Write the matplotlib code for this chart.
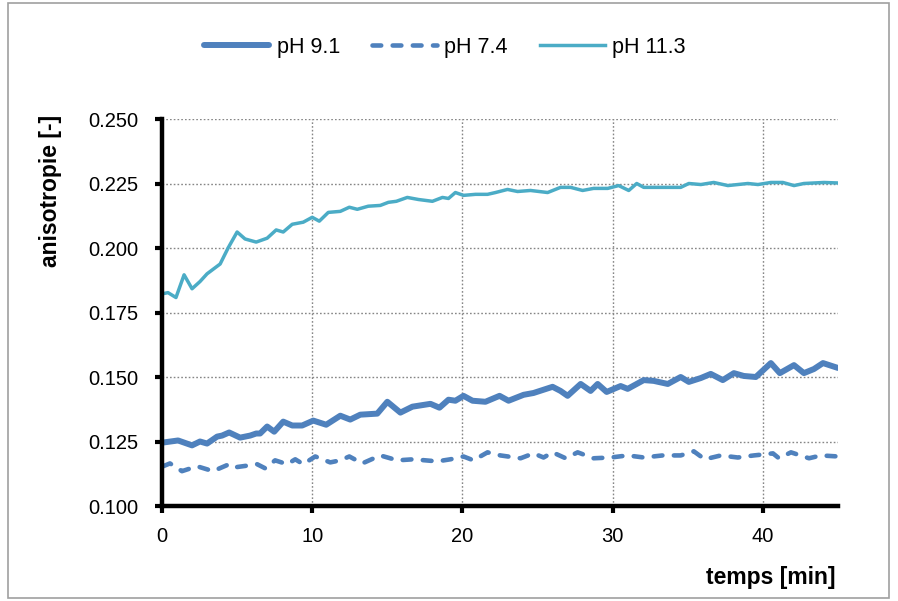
import matplotlib
matplotlib.use("Agg")
import matplotlib.pyplot as plt
from matplotlib.patches import Rectangle

plt.rcParams['font.family'] = ['Liberation Sans', 'DejaVu Sans']

# pH 9.1
t91 = [0.07, 1.07, 2.0, 2.53, 3.0, 3.67, 4.0, 4.47, 5.2, 5.87, 6.27, 6.53, 7.0, 7.47, 8.07, 8.67,
       9.33, 10.07, 10.93, 11.87, 12.53, 13.2, 14.33, 15.0, 15.87, 16.67, 17.87, 18.47, 19.07,
       19.53, 20.07, 20.67, 21.53, 22.47, 23.07, 24.07, 24.73, 26.0, 26.53, 27.0, 27.87, 28.53,
       29.0, 29.6, 30.53, 31.0, 32.07, 32.73, 33.67, 34.53, 35.07, 35.87, 36.53, 37.33, 38.07,
       38.73, 39.53, 40.53, 41.13, 42.07, 42.73, 43.4, 44.0, 45.0]
v91 = [0.1246, 0.1254, 0.1235, 0.125, 0.1242, 0.1269, 0.1273, 0.1285, 0.1265, 0.1273, 0.1281,
       0.1281, 0.1308, 0.1288, 0.1327, 0.1312, 0.1312, 0.1331, 0.1315, 0.135, 0.1335, 0.1354,
       0.1358, 0.1404, 0.1362, 0.1385, 0.1396, 0.1381, 0.1412, 0.1408, 0.1427, 0.1408, 0.1404,
       0.1427, 0.1408, 0.1431, 0.1438, 0.1462, 0.1446, 0.1427, 0.1473, 0.1446, 0.1473, 0.1442,
       0.1465, 0.1454, 0.1488, 0.1485, 0.1473, 0.15, 0.1481, 0.1496, 0.1512, 0.1488, 0.1515,
       0.1504, 0.15, 0.1554, 0.1515, 0.1546, 0.1515, 0.1531, 0.1554, 0.1535]

# pH 7.4
t74 = [0.07, 0.53, 1.33, 2.33, 3.4, 4.47, 4.87, 5.87, 6.33, 6.87, 7.53, 8.33, 8.87, 9.4, 10.2,
       11.2, 11.87, 12.47, 13.33, 14.53, 15.67, 16.73, 18.33, 19.2, 20.07, 20.73, 21.67, 22.53,
       23.87, 24.73, 25.4, 26.0, 26.87, 27.67, 28.73, 29.87, 31.0, 32.07, 33.33, 34.53, 35.4,
       36.13, 37.2, 38.33, 39.4, 40.07, 40.67, 41.07, 41.87, 43.07, 43.87, 45.0]
v74 = [0.1154, 0.1165, 0.1135, 0.1154, 0.1135, 0.1162, 0.115, 0.1158, 0.1162, 0.1146, 0.1177,
       0.1162, 0.1181, 0.1162, 0.1192, 0.1169, 0.1177, 0.1192, 0.1165, 0.1196, 0.1177, 0.1181,
       0.1173, 0.1181, 0.1192, 0.1177, 0.1208, 0.1196, 0.1185, 0.1204, 0.1188, 0.1208, 0.1185,
       0.1208, 0.1185, 0.1188, 0.1196, 0.1188, 0.1196, 0.1196, 0.1212, 0.1181, 0.1196, 0.1188,
       0.1196, 0.12, 0.1204, 0.1185, 0.1208, 0.1185, 0.1196, 0.1192]

# pH 11.3
t113 = [0.07, 0.4, 0.93, 1.47, 2.0, 2.53, 3.0, 3.87, 4.4, 5.0, 5.53, 6.27, 7.0, 7.6, 8.07, 8.67,
        9.4, 10.0, 10.47, 11.07, 11.87, 12.47, 13.0, 13.73, 14.53, 15.07, 15.6, 16.33, 17.07,
        18.0, 18.67, 19.07, 19.53, 20.07, 20.87, 21.67, 22.2, 23.0, 23.67, 24.53, 25.67, 26.53,
        27.2, 28.0, 28.73, 29.67, 30.4, 31.07, 31.6, 32.07, 33.4, 34.53, 35.07, 35.87, 36.73,
        37.67, 39.0, 39.67, 40.53, 41.33, 42.07, 42.73, 44.07, 45.0]
v113 = [0.1823, 0.1827, 0.1808, 0.1896, 0.1842, 0.187, 0.190, 0.1938, 0.200, 0.2062, 0.2035,
        0.2023, 0.2038, 0.207, 0.2062, 0.2092, 0.210, 0.2119, 0.2104, 0.2138, 0.2142, 0.2158,
        0.215, 0.2162, 0.2165, 0.2177, 0.2181, 0.2196, 0.2188, 0.2181, 0.2196, 0.2192, 0.2215,
        0.2204, 0.2208, 0.2208, 0.2215, 0.2227, 0.2219, 0.2223, 0.2215, 0.2235, 0.2235, 0.2223,
        0.2231, 0.2231, 0.2242, 0.2223, 0.225, 0.2235, 0.2235, 0.2235, 0.225, 0.2246, 0.2254,
        0.2242, 0.225, 0.2246, 0.2254, 0.2254, 0.2242, 0.225, 0.2254, 0.2252]

labels = ['pH 9.1', 'pH 7.4', 'pH 11.3']
xticks = [0, 10, 20, 30, 40]
yticks = [0.100, 0.125, 0.150, 0.175, 0.200, 0.225, 0.250]

c_blue = '#4F81BD'
c_cyan = '#4BACC6'

fig = plt.figure(figsize=(8.98, 6.01), dpi=100)
ax = fig.add_axes([162/898, 1 - 506/601, (838-162)/898, (506-119)/601])

ax.plot(t91, v91, color=c_blue, lw=4.3, solid_capstyle='round', solid_joinstyle='round', label=labels[0])
ax.plot(t74, v74, color=c_blue, lw=3.3, ls=(0, (1.9, 2.5)), dash_capstyle='round',
        dash_joinstyle='round', label=labels[1])
ax.plot(t113, v113, color=c_cyan, lw=2.5, solid_joinstyle='round', label=labels[2])

ax.set_xlim(0, 45)
ax.set_ylim(0.100, 0.250)
ax.set_xticks(xticks)
ax.set_yticks(yticks)
ax.set_yticklabels([f'{v:.3f}' for v in yticks])
ax.grid(True, color='#868686', ls=(0, (1.2, 1.5)), lw=1.0)
ax.set_axisbelow(True)
for s in ['top', 'right']:
    ax.spines[s].set_visible(False)
for s in ['left', 'bottom']:
    ax.spines[s].set_linewidth(3.2)
ax.tick_params(axis='both', direction='out', length=5, width=3.0, labelsize=14.5, colors='black')
ax.tick_params(axis='x', pad=10)
ax.tick_params(axis='y', pad=12)

ax.set_ylabel('anisotropie [-]', fontsize=16.5, fontweight='bold', loc='top')
ax.yaxis.set_label_coords((62 - 162) / 676, (506 - 115) / 387)
ax.set_xlabel('temps [min]', fontsize=16.5, fontweight='bold', loc='right')
ax.xaxis.set_label_coords((835 - 162) / 676, (506 - 566) / 387)

fig.legend(loc='center', bbox_to_anchor=(445/898, 1 - 47/601), ncol=3, frameon=False,
           fontsize=15.5, handlelength=3.0, columnspacing=1.5, handletextpad=0.35)

fig.patches.append(Rectangle((8/898, 3/601), 881/898, 595/601, transform=fig.transFigure,
                             fill=False, edgecolor='#a0a0a0', lw=1.2))

fig.savefig('out.png', dpi=100)
